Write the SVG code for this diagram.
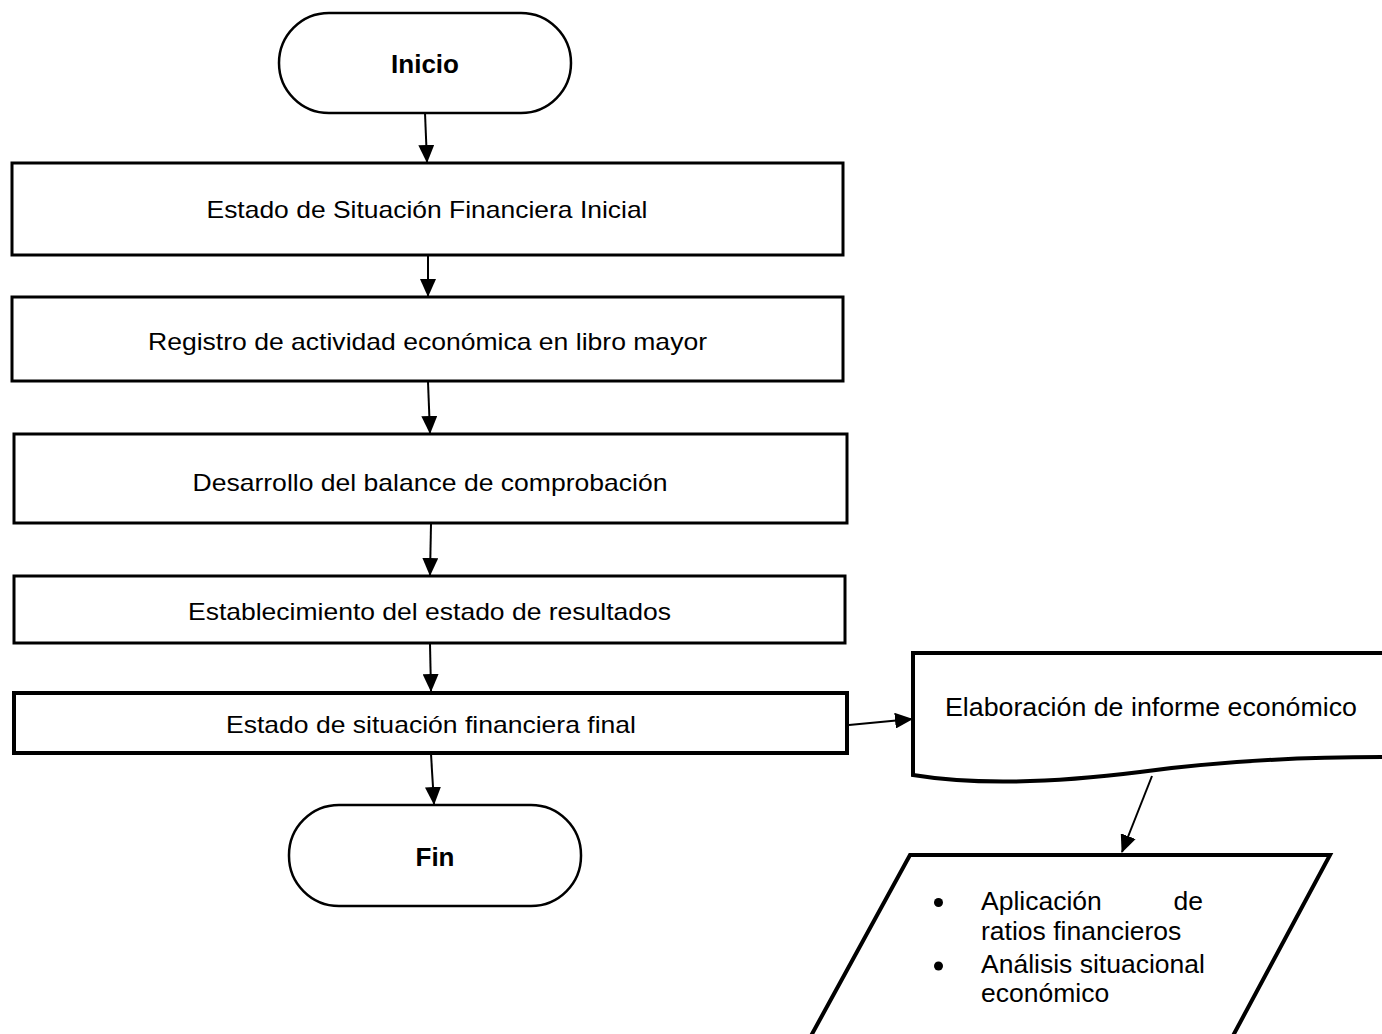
<svg xmlns="http://www.w3.org/2000/svg" width="1382" height="1034" viewBox="0 0 1382 1034">
  <style>
    .shape { fill: #ffffff; stroke: #000000; stroke-width: 3; }
    .term { fill: #ffffff; stroke: #000000; stroke-width: 2.5; }
    .bold { stroke-width: 4; }
    .lbl { font-family: "Liberation Sans", Arial, sans-serif; font-size: 24px; fill: #000000; text-anchor: middle; }
    .title { font-family: "Liberation Sans", Arial, sans-serif; font-size: 26px; font-weight: bold; fill: #000000; text-anchor: middle; }
    .body { font-family: "Liberation Sans", Arial, sans-serif; font-size: 26.5px; fill: #000000; }
    .flow { fill: none; stroke: #000000; stroke-width: 2; marker-end: url(#head); }
  </style>
  <defs>
    <marker id="head" markerUnits="userSpaceOnUse" markerWidth="18" markerHeight="16" refX="17" refY="8" orient="auto">
      <path d="M0,0 L18,8 L0,16 Z" fill="#000000"/>
    </marker>
  </defs>
  <rect width="1382" height="1034" fill="#ffffff"/>

  <!-- connectors -->
  <g id="connectors">
    <line class="flow" x1="425" y1="113" x2="427" y2="162"/>
    <line class="flow" x1="428" y1="256" x2="428" y2="296"/>
    <line class="flow" x1="428" y1="382" x2="430" y2="433"/>
    <line class="flow" x1="431" y1="524" x2="430" y2="575"/>
    <line class="flow" x1="430" y1="644" x2="431" y2="691"/>
    <line class="flow" x1="431" y1="754" x2="434" y2="804"/>
    <line class="flow" x1="849" y1="725" x2="912" y2="719"/>
    <line class="flow" x1="1152" y1="776" x2="1122" y2="852"/>
  </g>

  <!-- start terminal -->
  <g id="inicio">
    <rect class="term" x="279" y="13" width="292" height="100" rx="50" ry="50"/>
    <text class="title" x="425" y="73">Inicio</text>
  </g>

  <g id="estado-inicial">
    <rect class="shape" x="12" y="163" width="831" height="92"/>
    <text class="lbl" x="427" y="218" textLength="441" lengthAdjust="spacingAndGlyphs">Estado de Situación Financiera Inicial</text>
  </g>

  <g id="registro">
    <rect class="shape" x="12" y="297" width="831" height="84"/>
    <text class="lbl" x="427.5" y="350" textLength="559" lengthAdjust="spacingAndGlyphs">Registro de actividad económica en libro mayor</text>
  </g>

  <g id="balance">
    <rect class="shape" x="14" y="434" width="833" height="89"/>
    <text class="lbl" x="430" y="491" textLength="475" lengthAdjust="spacingAndGlyphs">Desarrollo del balance de comprobación</text>
  </g>

  <g id="resultados">
    <rect class="shape" x="14" y="576" width="831" height="67"/>
    <text class="lbl" x="429.5" y="620" textLength="483" lengthAdjust="spacingAndGlyphs">Establecimiento del estado de resultados</text>
  </g>

  <g id="estado-final">
    <rect class="shape bold" x="14" y="693" width="833" height="60"/>
    <text class="lbl" x="431" y="733" textLength="410" lengthAdjust="spacingAndGlyphs">Estado de situación financiera final</text>
  </g>

  <!-- end terminal -->
  <g id="fin">
    <rect class="term" x="289" y="805" width="292" height="101" rx="50" ry="50"/>
    <text class="title" x="435" y="866">Fin</text>
  </g>

  <!-- document shape with wavy bottom, running off the right edge -->
  <g id="informe">
    <path class="shape bold" d="M913,653 H1395 V757 H1382 C1300,757 1220,761 1140,772 C1060,782 980,786 913,775 Z"/>
    <text class="body" x="945" y="716" textLength="412" lengthAdjust="spacingAndGlyphs">Elaboración de informe económico</text>
  </g>

  <!-- input/output parallelogram, cut by the bottom edge -->
  <g id="analisis">
    <path class="shape bold" d="M1228,1045 L1330,855 L910,855 L806,1045"/>
    <circle cx="938.5" cy="902.5" r="4.5" fill="#000000"/>
    <circle cx="938.5" cy="966" r="4.5" fill="#000000"/>
    <text class="body" x="981" y="910">Aplicación</text>
    <text class="body" x="1203" y="910" text-anchor="end">de</text>
    <text class="body" x="981" y="940">ratios financieros</text>
    <text class="body" x="981" y="973">Análisis situacional</text>
    <text class="body" x="981" y="1002">económico</text>
  </g>
</svg>
